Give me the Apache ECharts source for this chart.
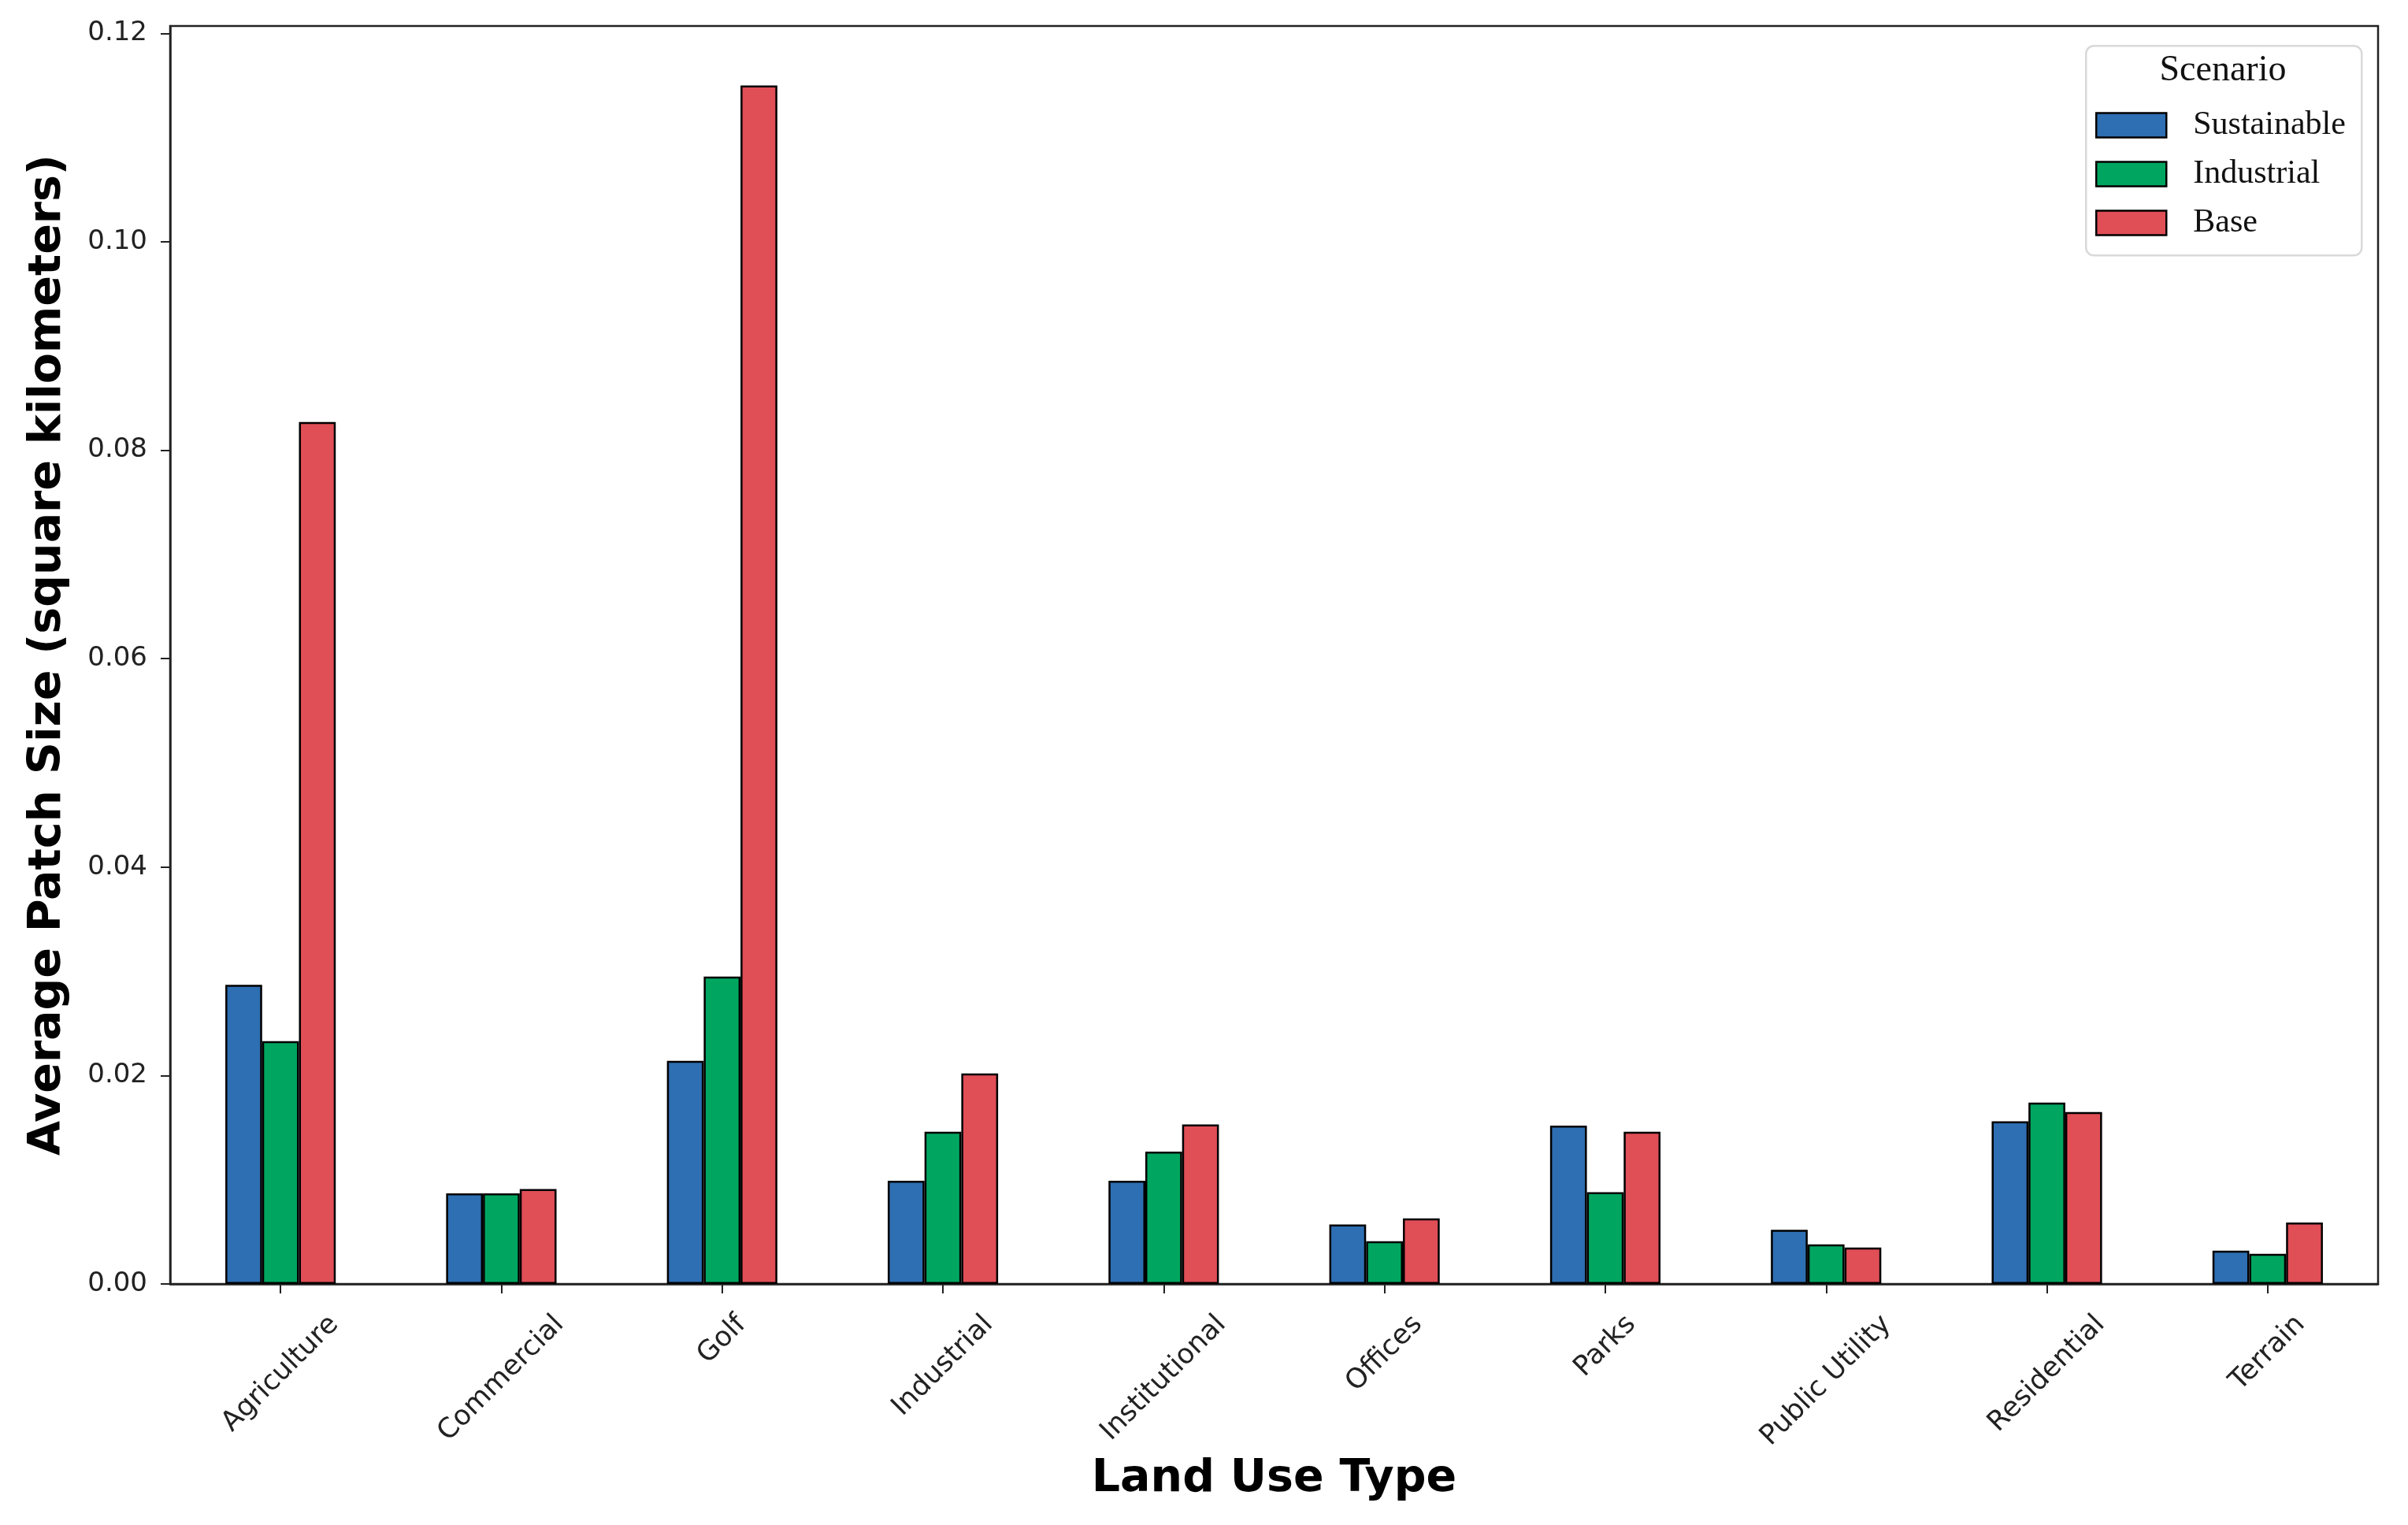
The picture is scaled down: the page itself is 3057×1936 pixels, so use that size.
<!DOCTYPE html>
<html>
<head>
<meta charset="utf-8">
<script src="https://cdn.jsdelivr.net/npm/echarts@6/dist/echarts.min.js"></script>
<style>html,body{margin:0;padding:0;background:#fff}#c{width:3057px;height:1936px}</style>
</head>
<body>
<div id="c"></div>
<script>
const categories = ['Agriculture','Commercial','Golf','Industrial','Institutional','Offices','Parks','Public Utility','Residential','Terrain'];
const sustainable = [0.0287,0.0087,0.0214,0.0099,0.0099,0.0057,0.0152,0.0052,0.0156,0.0032];
const industrial  = [0.0233,0.0087,0.0295,0.0146,0.0127,0.0041,0.0088,0.0038,0.0174,0.0029];
const base        = [0.0827,0.0091,0.1150,0.0202,0.0153,0.0063,0.0146,0.0035,0.0165,0.0059];
const seriesNames = ['Sustainable','Industrial','Base'];
const yTicks = [0,0.02,0.04,0.06,0.08,0.10,0.12];

const colors = ['#2E6EB2','#00A660','#E04E56'];
const XLABEL_FONT = 35;
const YLABEL_FONT = 34;
const ctx = document.createElement('canvas').getContext('2d');
ctx.font = XLABEL_FONT + 'px "DejaVu Sans"';
const rich = {};
categories.forEach((c,i)=>{
  const L = ctx.measureText(c).width;
  rich['c'+i] = {fontSize:XLABEL_FONT, fontFamily:'DejaVu Sans', color:'#222', padding:[L/2, L/2, 0, 0]};
});

const chart = echarts.init(document.getElementById('c'), null, {renderer:'canvas'});
const dataSets = [sustainable, industrial, base];
chart.setOption({
  animation:false,
  backgroundColor:'#fff',
  grid:{left:216, right:38, top:33, bottom:306, show:true, borderColor:'#222', borderWidth:2.5, backgroundColor:'transparent'},
  xAxis:{
    type:'category', data:categories,
    axisLine:{show:true, lineStyle:{color:'#222', width:2.5}},
    axisTick:{show:true, alignWithLabel:true, length:12, lineStyle:{color:'#222', width:2}},
    axisLabel:{interval:0, rotate:45, align:'center', verticalAlign:'middle', margin:46, hideOverlap:false,
      formatter:(v,i)=>'{c'+i+'|'+v+'}', rich:rich, fontFamily:'DejaVu Sans', fontSize:XLABEL_FONT, color:'#222'},
    name:'Land Use Type', nameLocation:'middle', nameGap:220,
    nameTextStyle:{fontFamily:'DejaVu Sans', fontWeight:'bold', fontSize:57, color:'#000'}
  },
  yAxis:{
    type:'value', min:0, max:0.1207,
    splitLine:{show:false},
    axisLine:{show:true, lineStyle:{color:'#222', width:2.5}},
    axisTick:{show:true, length:12, lineStyle:{color:'#222', width:2}, customValues:yTicks},
    axisLabel:{customValues:yTicks, formatter:v=>v.toFixed(2), fontFamily:'DejaVu Sans', fontSize:YLABEL_FONT, color:'#222', margin:29},
    name:'Average Patch Size (square kilometers)', nameLocation:'middle', nameGap:126,
    nameTextStyle:{fontFamily:'DejaVu Sans', fontWeight:'bold', fontSize:57, color:'#000'}
  },
  legend:{
    orient:'vertical', left:2660, top:138, padding:0, itemGap:20,
    itemWidth:89, itemHeight:31, icon:'rect',
    itemStyle:{borderColor:'#000', borderWidth:2.5},
    textStyle:{fontFamily:'Liberation Serif', fontSize:42, color:'#111', padding:[0,0,0,29]},
    data:seriesNames
  },
  graphic:[
    {type:'rect', left:2647, top:57, z:-1, shape:{width:350, height:266, r:10}, style:{fill:'#fff', stroke:'#d9d9d9', lineWidth:2.5}},
    {type:'text', x:2822, y:90, style:{text:'Scenario', align:'center', verticalAlign:'middle', fontFamily:'Liberation Serif', fontSize:46, fill:'#111'}}
  ],
  series: seriesNames.map((n,k)=>({
    name:n, type:'bar', data:dataSets[k], barWidth:'16.667%', barGap:'0%',
    itemStyle:{color:colors[k], borderColor:'#000', borderWidth:2.5}
  }))
});
</script>
</body>
</html>
